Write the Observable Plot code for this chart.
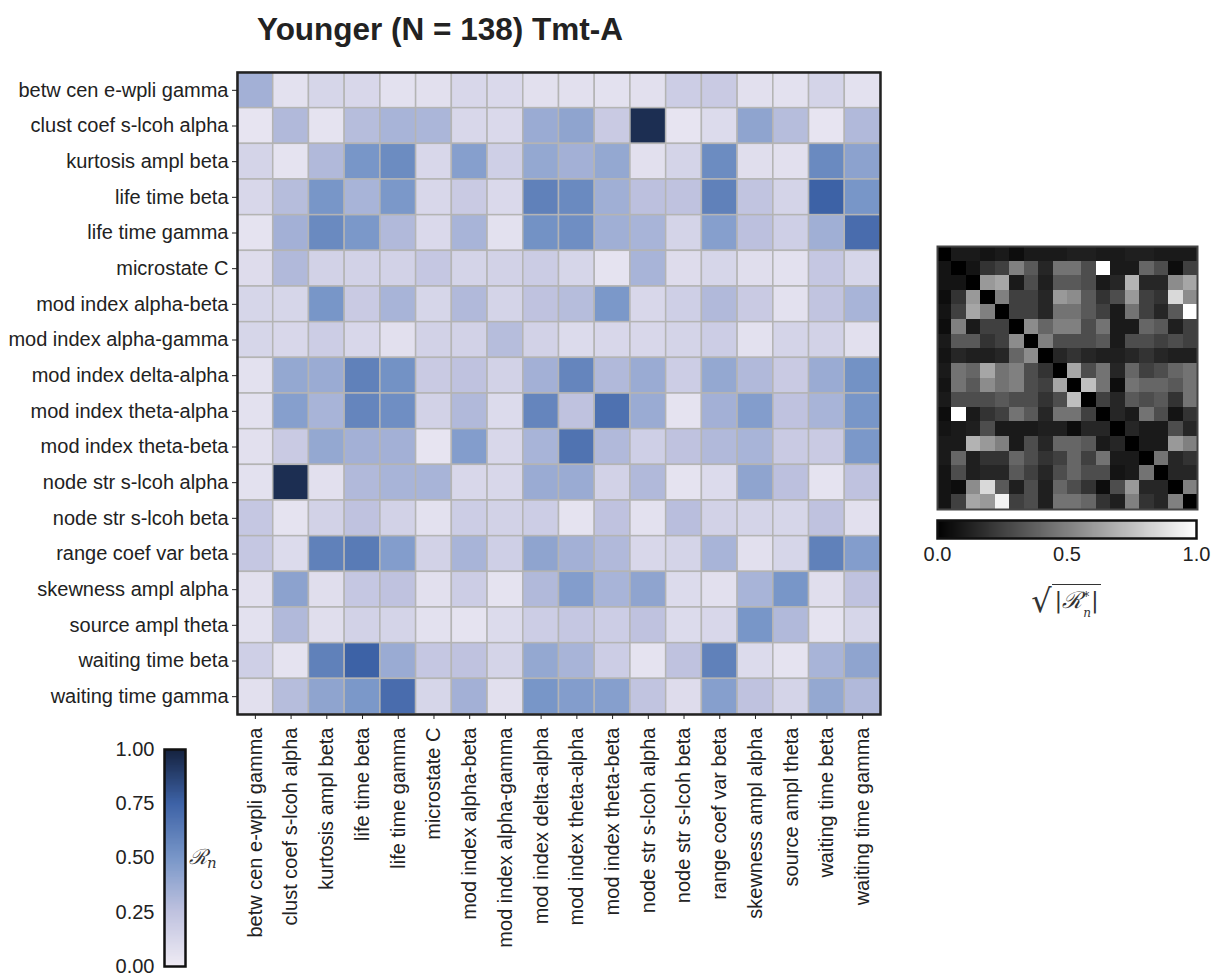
<!DOCTYPE html>
<html><head><meta charset="utf-8">
<script src="https://cdn.jsdelivr.net/npm/d3@7"></script>
<script src="https://cdn.jsdelivr.net/npm/@observablehq/plot@0.6"></script>
<style>
body{margin:0;background:#fff;overflow:hidden;font-family:"Liberation Sans",Arial,sans-serif;color:#222;}
#wrap{position:relative;width:1217px;height:978px;overflow:hidden;}
#wrap svg{overflow:visible;}
.title{position:absolute;left:0;width:880px;top:11px;text-align:center;font-weight:bold;font-size:31.5px;color:#222;}
.rnlab{position:absolute;left:189px;top:842px;font-family:"DejaVu Serif",serif;font-style:italic;font-size:21px;color:#333;}
.rnlab sub{font-size:15px;vertical-align:-4px;}
.rslab{position:absolute;left:1006px;top:582px;width:120px;text-align:center;font-family:"DejaVu Serif",serif;font-size:23px;color:#333;white-space:nowrap;}
.rslab .rad{font-family:"DejaVu Sans",sans-serif;font-size:32px;font-style:normal;vertical-align:-4px;}
.rslab .under{border-top:1.5px solid #333;padding:2px 2px 0 3px;font-style:italic;}
.rslab .ss{display:inline-block;vertical-align:-9px;line-height:16px;font-size:12px;text-align:left;margin-left:1px;}
.rslab .ss span{display:block;height:16px;}
</style></head><body><div id="wrap"></div>
<script>
const labels = [
  "betw cen e-wpli gamma","clust coef s-lcoh alpha","kurtosis ampl beta","life time beta",
  "life time gamma","microstate C","mod index alpha-beta","mod index alpha-gamma",
  "mod index delta-alpha","mod index theta-alpha","mod index theta-beta","node str s-lcoh alpha",
  "node str s-lcoh beta","range coef var beta","skewness ampl alpha","source ampl theta",
  "waiting time beta","waiting time gamma"
];

// R_n (blue matrix), rows top→bottom, columns left→right
const rnValues = [
  [0.35,0.06,0.13,0.12,0.06,0.07,0.12,0.11,0.07,0.07,0.06,0.07,0.18,0.20,0.07,0.06,0.14,0.06],
  [0.04,0.30,0.05,0.28,0.33,0.32,0.12,0.11,0.38,0.42,0.20,0.95,0.04,0.10,0.42,0.28,0.04,0.30],
  [0.14,0.05,0.30,0.50,0.55,0.12,0.45,0.17,0.40,0.35,0.40,0.07,0.14,0.55,0.08,0.07,0.56,0.43],
  [0.12,0.28,0.50,0.33,0.49,0.12,0.20,0.11,0.60,0.56,0.36,0.26,0.25,0.60,0.24,0.14,0.75,0.50],
  [0.05,0.35,0.56,0.49,0.30,0.11,0.33,0.06,0.52,0.54,0.36,0.33,0.14,0.45,0.26,0.17,0.36,0.70],
  [0.09,0.30,0.15,0.15,0.15,0.22,0.14,0.15,0.19,0.13,0.05,0.33,0.09,0.13,0.08,0.06,0.22,0.13],
  [0.13,0.13,0.50,0.20,0.33,0.13,0.30,0.14,0.25,0.28,0.49,0.12,0.17,0.30,0.20,0.06,0.24,0.33],
  [0.13,0.12,0.18,0.12,0.07,0.15,0.15,0.28,0.15,0.10,0.12,0.12,0.14,0.18,0.06,0.14,0.15,0.07],
  [0.06,0.40,0.38,0.60,0.52,0.20,0.25,0.15,0.35,0.58,0.30,0.38,0.18,0.40,0.30,0.20,0.38,0.52],
  [0.06,0.45,0.33,0.58,0.54,0.15,0.30,0.10,0.58,0.25,0.68,0.38,0.05,0.35,0.46,0.25,0.33,0.50],
  [0.07,0.20,0.40,0.35,0.35,0.04,0.46,0.12,0.33,0.67,0.30,0.17,0.25,0.30,0.33,0.20,0.20,0.49],
  [0.06,0.95,0.07,0.30,0.33,0.33,0.12,0.12,0.38,0.38,0.15,0.30,0.05,0.10,0.42,0.26,0.05,0.25],
  [0.22,0.05,0.15,0.25,0.15,0.06,0.18,0.15,0.18,0.05,0.25,0.06,0.27,0.15,0.14,0.13,0.25,0.07],
  [0.22,0.10,0.60,0.63,0.46,0.15,0.33,0.17,0.42,0.35,0.30,0.12,0.14,0.33,0.07,0.13,0.60,0.46],
  [0.07,0.43,0.08,0.22,0.25,0.07,0.18,0.05,0.30,0.46,0.33,0.42,0.10,0.07,0.33,0.50,0.08,0.25],
  [0.06,0.30,0.08,0.15,0.14,0.06,0.05,0.10,0.18,0.22,0.18,0.25,0.10,0.12,0.50,0.30,0.05,0.13],
  [0.17,0.05,0.60,0.75,0.38,0.22,0.25,0.14,0.40,0.33,0.18,0.05,0.25,0.60,0.10,0.05,0.33,0.42],
  [0.07,0.28,0.42,0.49,0.70,0.13,0.35,0.07,0.50,0.46,0.45,0.24,0.09,0.45,0.25,0.14,0.40,0.30]
];

// sqrt(|R_n*|) (grey matrix)
const rStarValues = [
  [0.00,0.10,0.10,0.08,0.10,0.05,0.10,0.10,0.10,0.12,0.12,0.10,0.10,0.12,0.12,0.10,0.10,0.10],
  [0.08,0.00,0.08,0.20,0.25,0.50,0.35,0.15,0.45,0.45,0.30,1.00,0.10,0.10,0.40,0.30,0.05,0.25],
  [0.08,0.08,0.00,0.60,0.65,0.10,0.30,0.12,0.35,0.35,0.30,0.10,0.15,0.70,0.15,0.15,0.55,0.65],
  [0.05,0.20,0.60,0.00,0.50,0.25,0.25,0.15,0.60,0.55,0.35,0.20,0.30,0.60,0.25,0.20,0.85,0.55],
  [0.08,0.25,0.65,0.50,0.00,0.25,0.25,0.15,0.45,0.45,0.35,0.25,0.10,0.45,0.25,0.15,0.35,1.00],
  [0.05,0.50,0.10,0.25,0.25,0.00,0.55,0.40,0.50,0.50,0.30,0.45,0.10,0.10,0.40,0.35,0.12,0.25],
  [0.10,0.35,0.35,0.20,0.25,0.55,0.00,0.50,0.30,0.30,0.30,0.35,0.10,0.30,0.30,0.25,0.30,0.25],
  [0.08,0.15,0.12,0.12,0.15,0.40,0.55,0.00,0.15,0.20,0.15,0.12,0.12,0.15,0.20,0.15,0.12,0.12],
  [0.10,0.45,0.40,0.65,0.45,0.50,0.30,0.20,0.00,0.65,0.30,0.45,0.15,0.40,0.25,0.30,0.40,0.45],
  [0.08,0.45,0.35,0.55,0.45,0.50,0.30,0.25,0.65,0.00,0.75,0.45,0.05,0.45,0.40,0.40,0.35,0.45],
  [0.10,0.30,0.30,0.30,0.35,0.30,0.30,0.20,0.30,0.75,0.00,0.25,0.15,0.35,0.30,0.35,0.20,0.45],
  [0.05,1.00,0.10,0.20,0.25,0.45,0.35,0.15,0.45,0.45,0.25,0.00,0.15,0.10,0.45,0.30,0.08,0.20],
  [0.08,0.10,0.12,0.30,0.10,0.10,0.10,0.12,0.12,0.05,0.15,0.15,0.00,0.15,0.10,0.10,0.30,0.15],
  [0.10,0.10,0.70,0.60,0.50,0.10,0.30,0.15,0.40,0.40,0.35,0.10,0.15,0.00,0.10,0.10,0.60,0.50],
  [0.10,0.40,0.12,0.20,0.20,0.40,0.30,0.20,0.25,0.40,0.25,0.45,0.10,0.10,0.00,0.45,0.15,0.20],
  [0.08,0.30,0.12,0.15,0.15,0.35,0.25,0.15,0.30,0.40,0.30,0.30,0.08,0.10,0.45,0.00,0.15,0.15],
  [0.08,0.05,0.55,0.85,0.35,0.12,0.30,0.12,0.40,0.30,0.20,0.05,0.30,0.60,0.15,0.15,0.00,0.50],
  [0.08,0.25,0.65,0.60,0.95,0.25,0.30,0.12,0.45,0.45,0.40,0.20,0.12,0.50,0.20,0.15,0.50,0.00]
];

const rnTicks = [0, 0.25, 0.5, 0.75, 1.0];
const rStarTicks = [0, 0.5, 1.0];
const blueStops = ["#efebf4", "#bfc2df", "#7896c8", "#3d62a6", "#14213d"];

const wrap = document.getElementById("wrap");
function place(node, left, top) {
  node.style.position = "absolute";
  node.style.left = left + "px";
  node.style.top = top + "px";
  wrap.appendChild(node);
}
const font = '"Liberation Sans", Arial, sans-serif';
const blueColor = {type: "linear", domain: rnTicks, range: blueStops, interpolate: "rgb"};
const greyColor = {type: "linear", domain: [0, 1], range: ["#000000", "#ffffff"], interpolate: "rgb"};

// title
const t = document.createElement("div");
t.className = "title";
t.textContent = "Younger (N = 138) Tmt-A";
wrap.appendChild(t);

// main heatmap
const cells = [];
rnValues.forEach((row, i) => row.forEach((v, j) => cells.push({row: labels[i], col: labels[j], v})));
const main = Plot.plot({
  width: 882, height: 964,
  marginLeft: 237, marginTop: 72, marginRight: 2, marginBottom: 250,
  style: {fontFamily: font, fontSize: "20px", color: "#222", background: "transparent", overflow: "visible"},
  x: {type: "band", domain: labels, padding: 0, round: false},
  y: {type: "band", domain: labels, padding: 0, round: false},
  color: blueColor,
  marks: [
    Plot.cell(cells, {x: "col", y: "row", fill: "v", stroke: "#b4b4b4", strokeWidth: 1.5, inset: 0}),
    Plot.frame({stroke: "#222", strokeWidth: 2.5}),
    Plot.axisY({tickSize: 5, tickPadding: 4, fontSize: 20, label: null}),
    Plot.axisX({tickSize: 5, tickPadding: 8, tickRotate: -90, fontSize: 20, label: null})
  ]
});
place(main, 0, 0);

// vertical colour bar
const ramp = d3.range(0, 1, 0.004).map(v => ({a: v, b: Math.min(1, v + 0.006), m: v + 0.002}));
const cbar = Plot.plot({
  width: 90, height: 240,
  marginLeft: 64, marginRight: 5, marginTop: 9, marginBottom: 14,
  style: {fontFamily: font, fontSize: "20px", color: "#222", background: "transparent", overflow: "visible"},
  y: {domain: [0, 1]},
  color: blueColor,
  marks: [
    Plot.rect(ramp, {y1: "a", y2: "b", fill: "m", shapeRendering: "crispEdges"}),
    Plot.frame({stroke: "#111", strokeWidth: 2.5}),
    Plot.axisY({ticks: rnTicks, tickFormat: d3.format(".2f"), tickSize: 0, tickPadding: 10, fontSize: 20, label: null})
  ]
});
place(cbar, 100, 740);

const rn = document.createElement("div");
rn.className = "rnlab";
rn.innerHTML = "ℛ<sub>n</sub>";
wrap.appendChild(rn);

// grey heatmap
const gcells = [];
rStarValues.forEach((row, i) => row.forEach((v, j) => gcells.push({row: labels[i], col: labels[j], v})));
const grey = Plot.plot({
  width: 262, height: 265,
  marginLeft: 1, marginRight: 1, marginTop: 1, marginBottom: 1,
  style: {background: "transparent", overflow: "visible"},
  x: {type: "band", domain: labels, padding: 0, round: false, axis: null},
  y: {type: "band", domain: labels, padding: 0, round: false, axis: null},
  color: greyColor,
  marks: [
    Plot.cell(gcells, {x: "col", y: "row", fill: "v", inset: 0, shapeRendering: "crispEdges"}),
    Plot.frame({stroke: "#444", strokeWidth: 2})
  ]
});
place(grey, 936, 245);

// horizontal grey colour bar
const gramp = d3.range(0, 1, 0.004).map(v => ({a: v, b: Math.min(1, v + 0.006), m: v + 0.002}));
const gbar = Plot.plot({
  width: 273, height: 70,
  marginLeft: 7, marginRight: 7, marginTop: 5, marginBottom: 47,
  style: {fontFamily: font, fontSize: "20px", color: "#222", background: "transparent", overflow: "visible"},
  x: {domain: [0, 1]},
  color: greyColor,
  marks: [
    Plot.rect(gramp, {x1: "a", x2: "b", fill: "m", shapeRendering: "crispEdges"}),
    Plot.frame({stroke: "#111", strokeWidth: 2.5}),
    Plot.axisX({ticks: rStarTicks, tickFormat: d3.format(".1f"), tickSize: 0, tickPadding: 8, fontSize: 20, label: null})
  ]
});
place(gbar, 930, 515);

const rs = document.createElement("div");
rs.className = "rslab";
rs.innerHTML = '<span class="rad">√</span><span class="under">|ℛ<span class="ss"><span>*</span><span>n</span></span>|</span>';
wrap.appendChild(rs);
</script>
</body></html>
